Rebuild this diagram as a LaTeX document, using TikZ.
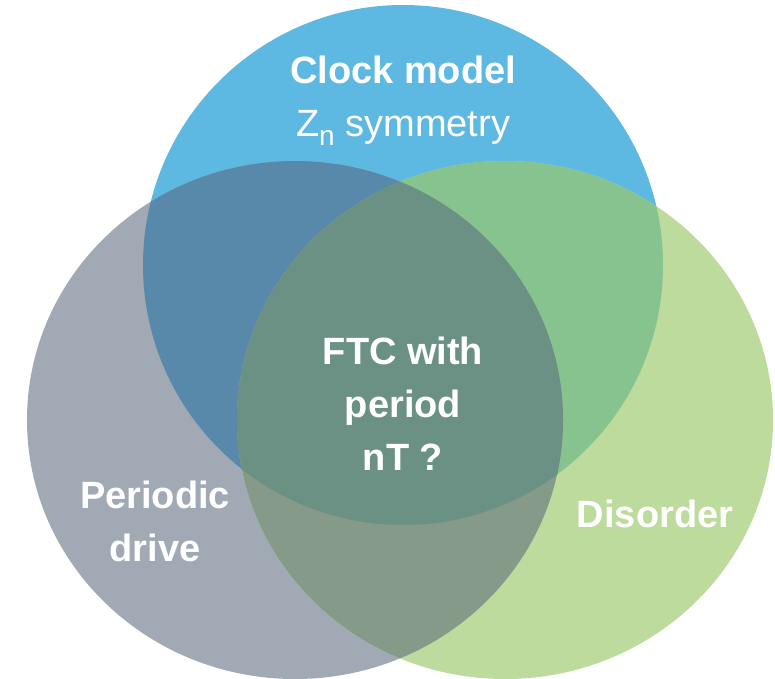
\documentclass[tikz,border=0pt]{standalone}
\usepackage{fontspec}
\setmainfont{Liberation Sans}

\definecolor{clockblue}{RGB}{93,185,226}
\definecolor{drivegrey}{RGB}{160,169,180}
\definecolor{disordergreen}{RGB}{189,219,156}
\definecolor{bluegrey}{RGB}{88,137,170}
\definecolor{bluegreen}{RGB}{135,195,143}
\definecolor{greygreen}{RGB}{134,154,138}
\definecolor{allthree}{RGB}{106,145,131}

\tikzset{
  setlabel/.style={text=white, align=center, font=\fontsize{38}{53}\selectfont},
}

\begin{document}
\begin{tikzpicture}[x=1pt, y=-1pt]
  \useasboundingbox (0,0) rectangle (775,678);

  % Circle centres
  \coordinate (clock) at (403,265);
  \coordinate (drive) at (295,420);
  \coordinate (disorder) at (505,420);

  % Single sets
  \fill[clockblue] (clock) circle [radius=260];
  \fill[drivegrey] (drive) ellipse [x radius=268, y radius=259];
  \fill[disordergreen] (disorder) ellipse [x radius=268, y radius=259];

  % Pairwise overlaps
  \begin{scope}
    \clip (clock) circle [radius=260];
    \fill[bluegrey] (drive) ellipse [x radius=268, y radius=259];
    \fill[bluegreen] (disorder) ellipse [x radius=268, y radius=259];
  \end{scope}
  \begin{scope}
    \clip (drive) ellipse [x radius=268, y radius=259];
    \fill[greygreen] (disorder) ellipse [x radius=268, y radius=259];
  \end{scope}

  % Centre overlap
  \begin{scope}
    \clip (clock) circle [radius=260];
    \clip (drive) ellipse [x radius=268, y radius=259];
    \fill[allthree] (disorder) ellipse [x radius=268, y radius=259];
  \end{scope}

  % Labels
  \node[setlabel] (clocklabel) at (403,101) {\textbf{Clock model}\\Z\raisebox{-9pt}{\fontsize{28}{28}\selectfont n} symmetry};
  \node[setlabel, font=\bfseries\fontsize{38}{53}\selectfont] (drivelabel) at (155,521) {Periodic\\drive};
  \node[setlabel, font=\bfseries\fontsize{38}{53}\selectfont] (disorderlabel) at (655,514) {Disorder};
  \node[setlabel, font=\bfseries\fontsize{38}{53}\selectfont] (ftclabel) at (403,404) {FTC with\\period\\nT ?};
\end{tikzpicture}
\end{document}
